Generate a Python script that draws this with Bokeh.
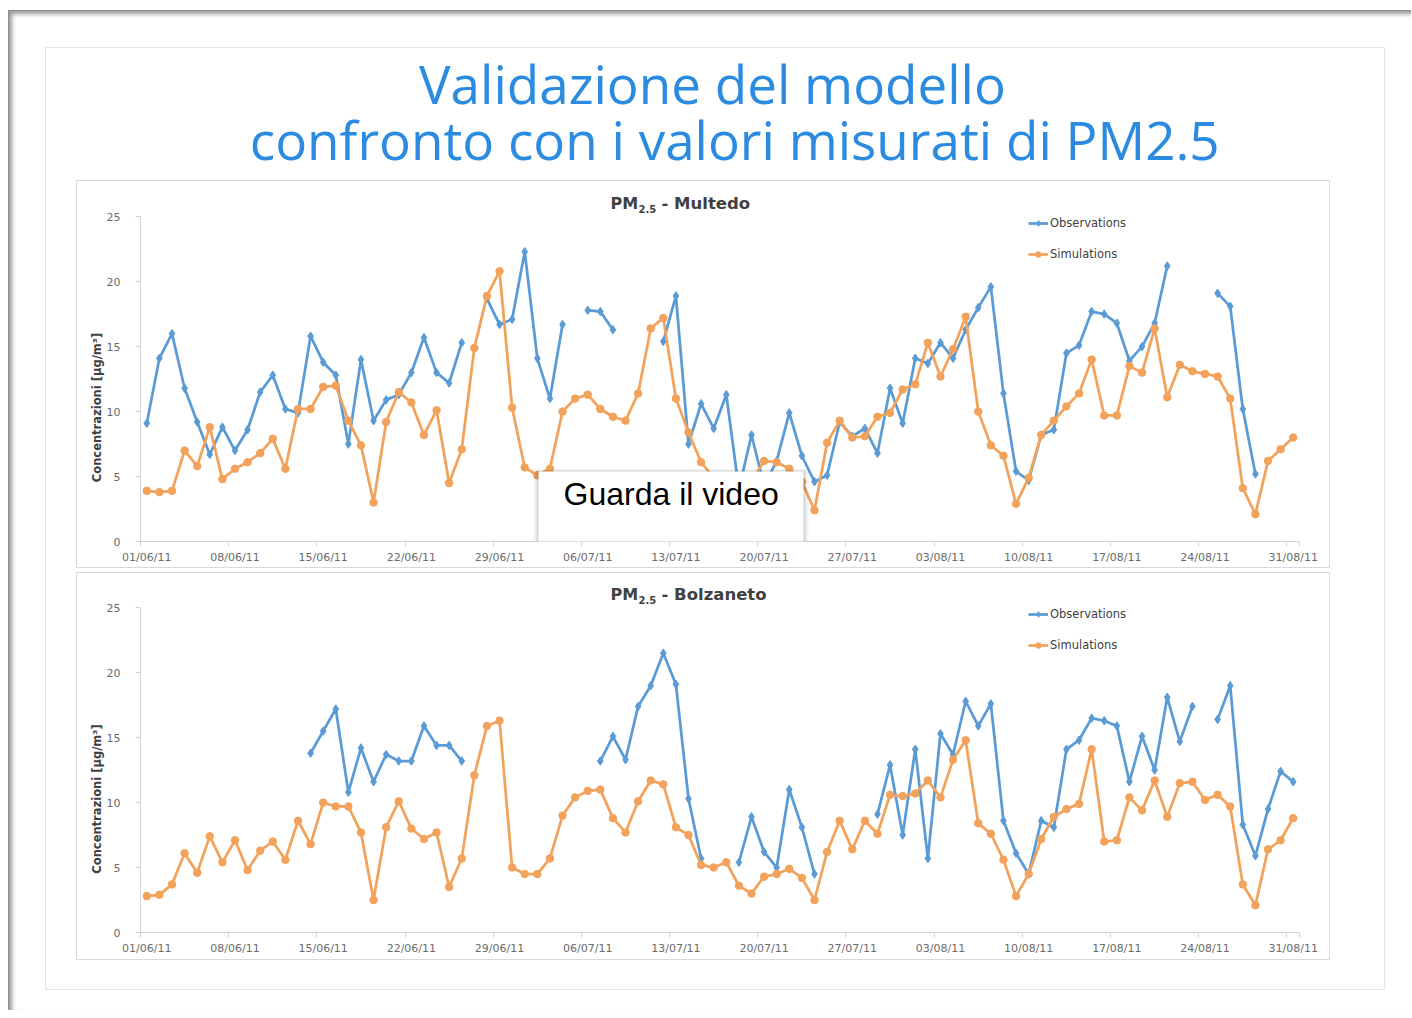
import math
import pandas as pd
from bokeh.plotting import figure
from bokeh.layouts import column
from bokeh.models import (ColumnDataSource, Range1d, FixedTicker, DatetimeTickFormatter,
                          Label, BoxAnnotation, Legend, LegendItem, Spacer)
from bokeh.embed import file_html
from bokeh.resources import INLINE

NaN = float("nan")

# ---------------- data ----------------
first_day = "2011-06-01"
last_day = "2011-08-31"
tick_labels = ["01/06/11", "08/06/11", "15/06/11", "22/06/11", "29/06/11", "06/07/11",
               "13/07/11", "20/07/11", "27/07/11", "03/08/11", "10/08/11", "17/08/11",
               "24/08/11", "31/08/11"]
y_ticks = [0, 5, 10, 15, 20, 25]

main_title = ["Validazione del modello", "confronto con i valori misurati di PM2.5"]
series_names = ["Observations", "Simulations"]
stations = ["Multedo", "Bolzaneto"]
y_label = "Concentrazioni [µg/m³]"
overlay_text = "Guarda il video"

multedo_obs = [
    9.1, 14.1, 16.0, 11.8, 9.2, 6.7, 8.8, 7.0, 8.6, 11.5,
    12.8, 10.2, 9.9, 15.8, 13.8, 12.8, 7.5, 14.0, 9.3, 10.9,
    11.3, 13.0, 15.7, 13.0, 12.2, 15.3, NaN, 18.7, 16.7, 17.1,
    22.3, 14.1, 11.0, 16.7, NaN, 17.8, 17.7, 16.3, NaN, NaN,
    NaN, 15.4, 18.9, 7.5, 10.6, 8.7, 11.3, 4.0, 8.2, 4.3,
    6.2, 9.9, 6.6, 4.6, 5.1, 9.2, 8.1, 8.7, 6.8, 11.8,
    9.1, 14.1, 13.7, 15.3, 14.1, 16.3, 18.0, 19.6, 11.4, 5.4,
    4.7, 8.2, 8.6, 14.5, 15.1, 17.7, 17.5, 16.8, 13.9, 15.0,
    16.8, 21.2, NaN, NaN, NaN, 19.1, 18.1, 10.2, 5.2, NaN,
    NaN, NaN]
multedo_sim = [
    3.9, 3.8, 3.9, 7.0, 5.8, 8.8, 4.8, 5.6, 6.1, 6.8,
    7.9, 5.6, 10.2, 10.2, 11.9, 12.0, 9.3, 7.4, 3.0, 9.2,
    11.5, 10.7, 8.2, 10.1, 4.5, 7.1, 14.9, 18.9, 20.8, 10.3,
    5.7, 5.1, 5.6, 10.0, 11.0, 11.3, 10.2, 9.6, 9.3, 11.4,
    16.4, 17.2, 11.0, 8.4, 6.1, 4.9, 4.3, 3.6, 4.6, 6.2,
    6.1, 5.6, 4.6, 2.4, 7.6, 9.3, 8.0, 8.1, 9.6, 9.9,
    11.7, 12.1, 15.3, 12.7, 14.8, 17.3, 10.0, 7.4, 6.6, 2.9,
    4.9, 8.2, 9.3, 10.4, 11.4, 14.0, 9.7, 9.7, 13.5, 13.0,
    16.4, 11.1, 13.6, 13.1, 12.9, 12.7, 11.0, 4.1, 2.1, 6.2,
    7.1, 8.0]
bolzaneto_obs = [
    NaN, NaN, NaN, NaN, NaN, NaN, NaN, NaN, NaN, NaN,
    NaN, NaN, NaN, 13.8, 15.5, 17.2, 10.8, 14.2, 11.6, 13.7,
    13.2, 13.2, 15.9, 14.4, 14.4, 13.2, NaN, NaN, NaN, NaN,
    NaN, NaN, NaN, NaN, NaN, NaN, 13.2, 15.1, 13.3, 17.4,
    19.0, 21.5, 19.1, 10.3, 5.7, NaN, NaN, 5.4, 8.9, 6.2,
    5.0, 11.0, 8.1, 4.5, NaN, NaN, NaN, NaN, 9.1, 12.9,
    7.5, 14.1, 5.7, 15.3, 13.7, 17.8, 15.9, 17.6, 8.6, 6.1,
    4.5, 8.6, 8.1, 14.1, 14.8, 16.5, 16.3, 15.9, 11.6, 15.1,
    12.5, 18.1, 14.7, 17.4, NaN, 16.4, 19.0, 8.3, 5.9, 9.5,
    12.4, 11.6]
bolzaneto_sim = [
    2.8, 2.9, 3.7, 6.1, 4.6, 7.4, 5.4, 7.1, 4.8, 6.3,
    7.0, 5.6, 8.6, 6.8, 10.0, 9.7, 9.7, 7.7, 2.5, 8.1,
    10.1, 8.0, 7.2, 7.7, 3.5, 5.7, 12.1, 15.9, 16.3, 5.0,
    4.5, 4.5, 5.7, 9.0, 10.4, 10.9, 11.0, 8.8, 7.7, 10.1,
    11.7, 11.4, 8.1, 7.5, 5.2, 5.0, 5.4, 3.6, 3.0, 4.3,
    4.5, 4.9, 4.2, 2.5, 6.2, 8.6, 6.4, 8.6, 7.6, 10.6,
    10.5, 10.7, 11.7, 10.4, 13.3, 14.8, 8.4, 7.6, 5.6, 2.8,
    4.5, 7.2, 8.9, 9.5, 9.9, 14.1, 7.0, 7.1, 10.4, 9.4,
    11.7, 8.9, 11.5, 11.6, 10.2, 10.6, 9.7, 3.7, 2.1, 6.4,
    7.1, 8.8]

# ---------------- styles ----------------
BLUE = "#5b9bd5"
ORANGE = "#f2a25a"
TITLE_BLUE = "#2a8be0"
AXIS_GRAY = "#d4d4d4"
TICK_TEXT = "#6b6b6b"
DARK_TEXT = "#404040"
PX_PER_UNIT = 323 / 25.0
NBSP = "\u00a0"

dates = pd.date_range(first_day, last_day, freq="D")
HALF_DAY = 12 * 3600 * 1000.0
tick_ms = [pd.Timestamp(t).timestamp() * 1000.0
           for t in pd.to_datetime(tick_labels, format="%d/%m/%y")]
minor_ms = [t - HALF_DAY for t in tick_ms] + [tick_ms[-1] + HALF_DAY]
x_start = dates[0].timestamp() * 1000.0 - HALF_DAY
x_end = dates[-1].timestamp() * 1000.0 + HALF_DAY

fmt = "%d/%m/%y"


def make_chart(station, obs, sim, frame_h, border_bottom, top_margin, overlay=False):
    p = figure(frame_width=1157, frame_height=frame_h,
               x_range=Range1d(x_start, x_end),
               y_range=Range1d(0, frame_h / PX_PER_UNIT),
               x_axis_type="datetime",
               min_border_left=63, min_border_right=32, min_border_top=0,
               min_border_bottom=border_bottom,
               toolbar_location=None, output_backend="svg",
               outline_line_color=None, background_fill_color="white",
               border_fill_color="white",
               margin=(top_margin, 0, 0, 30),
               styles={"border": "1px solid #d9d9d9"})
    p.grid.visible = False

    src = ColumnDataSource(dict(date=dates, obs=obs, sim=sim))
    l_obs = p.line("date", "obs", source=src, line_color=BLUE, line_width=2.75)
    s_obs = p.scatter("date", "obs", source=src, marker="diamond", size=8.5,
                      fill_color=BLUE, line_color=BLUE)
    l_sim = p.line("date", "sim", source=src, line_color=ORANGE, line_width=2.75)
    s_sim = p.scatter("date", "sim", source=src, marker="circle", size=7.5,
                      fill_color=ORANGE, line_color=ORANGE)

    # x axis
    xa = p.xaxis[0]
    xa.ticker = FixedTicker(ticks=tick_ms, minor_ticks=minor_ms)
    xa.formatter = DatetimeTickFormatter(days=fmt, months=fmt, years=fmt, hours=fmt,
                                         hourmin=fmt, minutes=fmt, minsec=fmt,
                                         seconds=fmt, milliseconds=fmt,
                                         microseconds=fmt)
    xa.axis_line_color = AXIS_GRAY
    xa.major_tick_out = 0
    xa.major_tick_in = 0
    xa.minor_tick_out = 5
    xa.minor_tick_in = 0
    xa.minor_tick_line_color = AXIS_GRAY
    xa.major_label_standoff = 4
    xa.major_label_text_font = "DejaVu Sans"
    xa.major_label_text_font_size = "11px"
    xa.major_label_text_color = TICK_TEXT

    # y axis (label padded with non-breaking spaces so it sits lower, as in the source)
    ya = p.yaxis[0]
    ya.ticker = FixedTicker(ticks=y_ticks)
    ya.bounds = (y_ticks[0], y_ticks[-1])
    ya.axis_line_color = AXIS_GRAY
    ya.major_tick_line_color = AXIS_GRAY
    ya.major_tick_out = 5
    ya.major_tick_in = 0
    ya.minor_tick_line_color = None
    ya.major_label_standoff = 15
    ya.major_label_text_font = "DejaVu Sans"
    ya.major_label_text_font_size = "11px"
    ya.major_label_text_color = TICK_TEXT
    ya.axis_label = y_label + NBSP * 23
    ya.axis_label_standoff = 0
    ya.axis_label_text_font = "DejaVu Sans"
    ya.axis_label_text_font_size = "11.5px"
    ya.axis_label_text_font_style = "bold"
    ya.axis_label_text_color = DARK_TEXT

    # chart title "PM2.5 - station" with subscript
    p.add_layout(Label(x=470, y=338, x_units="screen", y_units="screen", text="PM",
                       text_font="DejaVu Sans", text_font_style="bold",
                       text_font_size="16px", text_color=DARK_TEXT,
                       text_baseline="alphabetic"))
    p.add_layout(Label(x=498, y=333, x_units="screen", y_units="screen", text="2.5",
                       text_font="DejaVu Sans", text_font_style="bold",
                       text_font_size="10px", text_color=DARK_TEXT,
                       text_baseline="alphabetic"))
    p.add_layout(Label(x=521, y=338, x_units="screen", y_units="screen",
                       text="- " + station,
                       text_font="DejaVu Sans", text_font_style="bold",
                       text_font_size="16.5px", text_color=DARK_TEXT,
                       text_baseline="alphabetic"))

    legend = Legend(items=[LegendItem(label=series_names[0], renderers=[l_obs, s_obs]),
                           LegendItem(label=series_names[1], renderers=[l_sim, s_sim])],
                    location=(888, 280), orientation="vertical",
                    border_line_color=None, background_fill_alpha=0,
                    padding=0, margin=0, spacing=17,
                    label_height=14, glyph_height=14, glyph_width=20,
                    label_standoff=2,
                    label_text_font="DejaVu Sans", label_text_font_size="11.5px",
                    label_text_color=DARK_TEXT)
    p.add_layout(legend)

    if overlay:
        for grow, drop, a in [(5, 8, 0.04), (3, 5, 0.06), (1.5, 2.5, 0.08)]:
            p.add_layout(BoxAnnotation(left=398 - grow, right=663 + grow,
                                       top=70 + grow / 2, bottom=-2 - drop,
                                       left_units="screen", right_units="screen",
                                       top_units="screen", bottom_units="screen",
                                       fill_color="black", fill_alpha=a,
                                       line_color=None))
        p.add_layout(BoxAnnotation(left=398, right=663, top=70, bottom=-2,
                                   left_units="screen", right_units="screen",
                                   top_units="screen", bottom_units="screen",
                                   fill_color="white", fill_alpha=1.0,
                                   line_color=None))
        p.add_layout(Label(x=423, y=48, x_units="screen", y_units="screen",
                           text=overlay_text, text_font="Liberation Sans",
                           text_font_size="32px", text_color="black",
                           text_baseline="alphabetic"))
    return p


# ---------------- header ----------------
header = figure(width=1338, height=132, x_range=Range1d(0, 1338), y_range=Range1d(132, 0),
                toolbar_location=None, output_backend="svg",
                x_axis_location=None, y_axis_location=None, min_border=0,
                outline_line_color=None, background_fill_color="white",
                border_fill_color="white")
header.grid.visible = False
header.add_layout(Label(x=649, y=35, text=main_title[0], text_align="center",
                        text_baseline="alphabetic", text_font="Open Sans",
                        text_font_size="53px", text_color=TITLE_BLUE))
header.add_layout(Label(x=673, y=91, text=main_title[1], text_align="center",
                        text_baseline="alphabetic", text_font="Open Sans",
                        text_font_size="53px", text_color=TITLE_BLUE))

c1 = make_chart(stations[0], multedo_obs, multedo_sim, frame_h=358, border_bottom=28,
                top_margin=0, overlay=True)
c2 = make_chart(stations[1], bolzaneto_obs, bolzaneto_sim, frame_h=357, border_bottom=29,
                top_margin=4)

slide = column(header, c1, c2, Spacer(width=1338, height=29), spacing=0,
               margin=(36, 0, 20, 36),
               styles={"border": "1px solid #e6e6e6", "background-color": "white"})
root = column(slide, margin=(10, 0, 0, 8),
              styles={"border-top": "1px solid #8d8d8d", "border-left": "1px solid #8d8d8d",
                      "box-shadow": "inset 3px 3px 4px rgba(0,0,0,0.40)",
                      "width": "1403px", "box-sizing": "border-box",
                      "background-color": "white"})

open("out.html", "w").write(file_html(root, INLINE, title="PM2.5"))
